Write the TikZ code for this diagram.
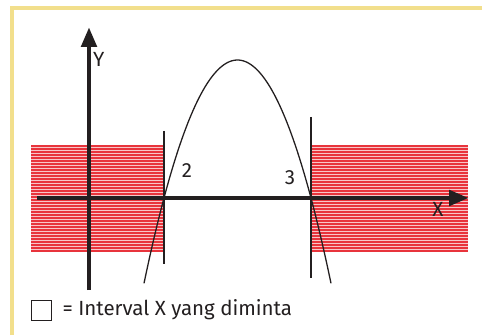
\documentclass[tikz,border=0pt]{standalone}
\usepackage{fontspec}
\setmainfont{Fira Sans}
\usetikzlibrary{arrows.meta, positioning}
\definecolor{cFrame}{HTML}{F2DF8C}
\definecolor{cStripe}{HTML}{E8343C}
\definecolor{cPink}{HTML}{F8C6C8}
\definecolor{cInk}{HTML}{231F20}

\begin{document}
\begin{tikzpicture}[x=0.03cm, y=0.03cm,
      lbl/.style = {font=\fontsize{17.5}{21}\selectfont, text=cInk, inner sep=0pt},
      axis/.style = {-{Triangle[length=6mm, width=4.5mm]}, draw=cInk, line width=4.2pt},
      vl/.style = {draw=cInk, line width=1pt},
      band/.style = {fill=cPink, draw=none},
      stripe/.style = {draw=cStripe, line width=1.1pt} ]
    \useasboundingbox (0,0) rectangle (482,335);
    % frame (top and left only)
    \draw[draw=cFrame, line width=3.6pt] (12,0) -- (12,327) -- (482,327);
    % shaded x-intervals
    \fill[band] (31,83) rectangle (164,189);
    \fill[band] (311,83) rectangle (468,189);
    \foreach \y in {84,87,...,189} {
      \draw[stripe] (31,\y) -- (164,\y);
      \draw[stripe] (311,\y) -- (468,\y);
    }
    % axes
    \coordinate (yb) at (89,45);  \coordinate (yt) at (89,308);
    \coordinate (xl) at (37,137); \coordinate (xr) at (469,137);
    \draw[axis] (yb) -- (yt);
    \draw[axis] (xl) -- (xr);
    \node[lbl, anchor=north west] (ylab) at (93,283) {Y};
    \node[lbl, anchor=north] (xlab) at (438,133) {X};
    % boundaries x = 2 and x = 3
    \coordinate (a1) at (164,204); \coordinate (a2) at (164,71);
    \coordinate (b1) at (311,218); \coordinate (b2) at (311,57);
    \draw[vl] (a1) -- (a2);
    \draw[vl] (b1) -- (b2);
    % parabola
    \draw[cInk, line width=1.1pt, domain=144:331, samples=80, smooth]
      plot (\x, {137 + 138*(1 - ((\x-237.5)/73.5)^2)});
    \node[lbl] (two) at (187,164) {2};
    \node[lbl] (three) at (290,157) {3};
    % legend
    \node[draw=cInk, line width=0.8pt, minimum size=0.6cm, inner sep=0pt] (key) at (41,25) {};
    \node[lbl, right=0.33cm of key] (keytxt) {= Interval X yang diminta};
  \end{tikzpicture}
\end{document}
